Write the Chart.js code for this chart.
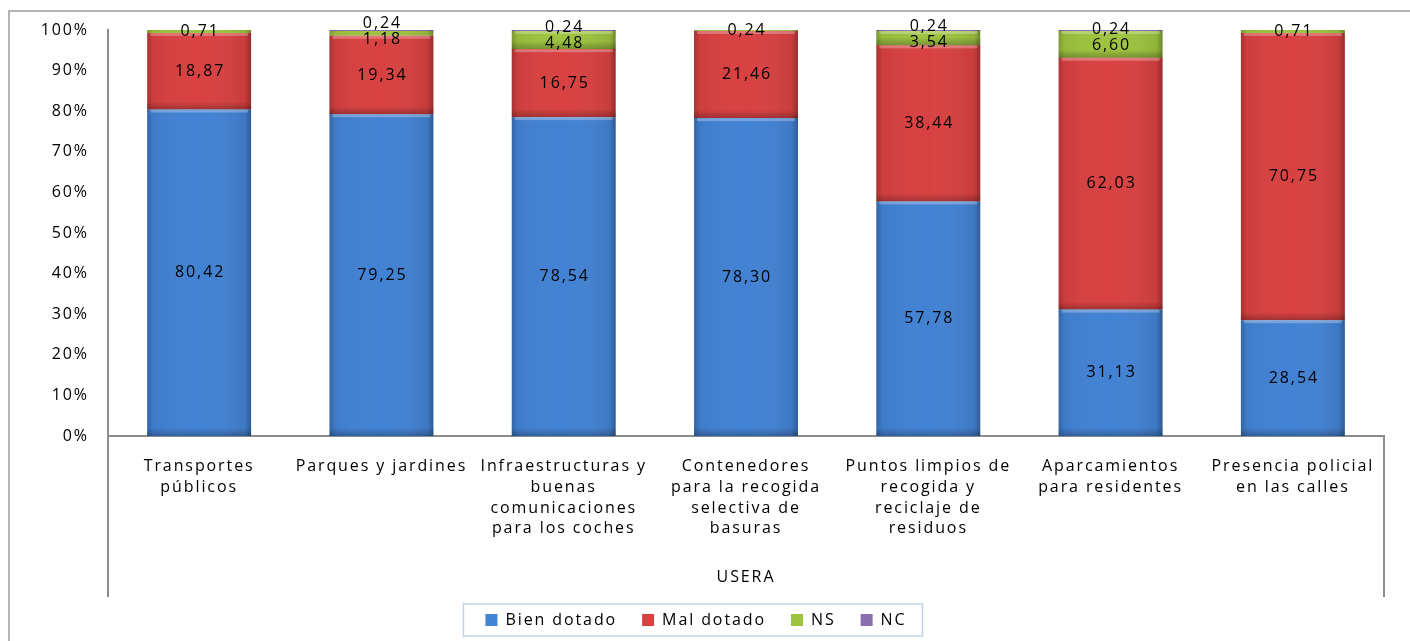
<!DOCTYPE html>
<html>
<head>
<meta charset="utf-8">
<script src="https://cdn.jsdelivr.net/npm/chart.js@4/dist/chart.umd.min.js"></script>
<style>
  html, body { margin: 0; padding: 0; background: #fff; }
  #wrap { width: 1410px; height: 641px; }
</style>
</head>
<body>
<div id="wrap"><canvas id="chart"></canvas></div>
<script>
// Data (percentages)
const categories = [
    ['Transportes', 'públicos'],
    ['Parques y jardines'],
    ['Infraestructuras y', 'buenas', 'comunicaciones', 'para los coches'],
    ['Contenedores', 'para la recogida', 'selectiva de', 'basuras'],
    ['Puntos limpios de', 'recogida y', 'reciclaje de', 'residuos'],
    ['Aparcamientos', 'para residentes'],
    ['Presencia policial', 'en las calles']
];
const bienDotado = [80.42, 79.25, 78.54, 78.30, 57.78, 31.13, 28.54];
const malDotado = [18.87, 19.34, 16.75, 21.46, 38.44, 62.03, 70.75];
const ns = [0.71, 1.18, 4.48, 0.24, 3.54, 6.60, 0.71];
const nc = [0, 0.24, 0.24, 0, 0.24, 0.24, 0];
const yTicks = [0, 10, 20, 30, 40, 50, 60, 70, 80, 90, 100];
const groupLabel = 'USERA';

const FONT = '"Open Sans", Lato, sans-serif';
const SPACING = '1.9px';
const PLOT_BOTTOM = 436;
const PAD_BOTTOM = 3;
const colors = {
    blue: '#4282d3',
    red: '#d84141',
    green: '#9dc33f',
    purple: '#8a70b0'
};

function fmt(v) {
    return v.toFixed(2).replace('.', ',');
}

// Spacing between letters like the original rendering
const letterSpacing = {
    id: 'letterSpacing',
    beforeLayout(chart) { chart.ctx.letterSpacing = SPACING; },
    beforeDraw(chart) { chart.ctx.letterSpacing = SPACING; }
};

// Outer frame of the chart
const frame = {
    id: 'frame',
    beforeDraw(chart) {
        const ctx = chart.ctx;
        ctx.save();
        ctx.strokeStyle = '#b4b4b4';
        ctx.lineWidth = 2;
        ctx.strokeRect(9, 11, chart.width + 20, chart.height + 20);
        ctx.restore();
    }
};

// Bevel shading on the bars
const bevel = {
    id: 'bevel',
    afterDatasetsDraw(chart) {
        const ctx = chart.ctx;
        ctx.save();
        chart.data.datasets.forEach((ds, i) => {
            const meta = chart.getDatasetMeta(i);
            meta.data.forEach((bar, j) => {
                if (!ds.data[j]) return;
                const left = bar.x - bar.width / 2;
                const right = bar.x + bar.width / 2;
                const top = Math.min(bar.y, bar.base);
                const h = Math.abs(bar.base - bar.y);
                let g = ctx.createLinearGradient(left, 0, right, 0);
                g.addColorStop(0, 'rgba(0,0,0,0.22)');
                g.addColorStop(0.06, 'rgba(0,0,0,0.05)');
                g.addColorStop(0.5, 'rgba(255,255,255,0)');
                g.addColorStop(0.94, 'rgba(0,0,0,0.08)');
                g.addColorStop(1, 'rgba(0,0,0,0.3)');
                ctx.fillStyle = g;
                ctx.fillRect(left, top, bar.width, h);
                if (h > 6) {
                    ctx.fillStyle = 'rgba(255,255,255,0.28)';
                    ctx.fillRect(left + 3, top, bar.width - 6, Math.min(3, h / 3));
                    const bg = ctx.createLinearGradient(0, top + h - 8, 0, top + h);
                    bg.addColorStop(0, 'rgba(0,0,0,0)');
                    bg.addColorStop(1, 'rgba(0,0,0,0.25)');
                    ctx.fillStyle = bg;
                    ctx.fillRect(left, top + h - 8, bar.width, 8);
                }
            });
        });
        ctx.restore();
    }
};

// Value labels centred in each segment, small ones spread apart
const valueLabels = {
    id: 'valueLabels',
    afterDatasetsDraw(chart) {
        const ctx = chart.ctx;
        const minGap = 16;
        ctx.save();
        ctx.font = '16px ' + FONT;
        ctx.fillStyle = '#000';
        ctx.textAlign = 'center';
        ctx.textBaseline = 'middle';
        categories.forEach((c, j) => {
            const items = [];
            chart.data.datasets.forEach((ds, i) => {
                const v = ds.data[j];
                if (!v) return;
                const bar = chart.getDatasetMeta(i).data[j];
                items.push({ x: bar.x, y: (bar.y + bar.base) / 2, text: fmt(v) });
            });
            items.sort((a, b) => a.y - b.y);
            for (let k = 0; k < 5; k++) {
                for (let n = 1; n < items.length; n++) {
                    const a = items[n - 1], b = items[n];
                    if (b.y - a.y < minGap) {
                        const mid = (a.y + b.y) / 2;
                        a.y = mid - minGap / 2;
                        b.y = mid + minGap / 2;
                    }
                }
            }
            items.forEach(it => ctx.fillText(it.text, it.x + 1, it.y));
        });
        ctx.restore();
    }
};

// Group label, axis box lines and legend frame
const extras = {
    id: 'extras',
    afterDraw(chart) {
        const ctx = chart.ctx;
        const area = chart.chartArea;
        ctx.save();
        ctx.strokeStyle = '#8c8c8c';
        ctx.lineWidth = 2;
        ctx.beginPath();
        ctx.moveTo(area.left, area.bottom);
        ctx.lineTo(area.left, area.bottom + 161);
        ctx.moveTo(area.right, area.bottom);
        ctx.lineTo(area.right, area.bottom + 161);
        ctx.stroke();
        ctx.font = '16px ' + FONT;
        ctx.fillStyle = '#000';
        ctx.textAlign = 'center';
        ctx.textBaseline = 'middle';
        ctx.fillText(groupLabel, (area.left + area.right) / 2, area.bottom + 141);

        const boxes = chart.legend.legendHitBoxes;
        if (boxes && boxes.length) {
            const l = Math.min(...boxes.map(b => b.left)) - 22;
            const r = Math.max(...boxes.map(b => b.left + b.width)) + 16;
            const cy = boxes[0].top + boxes[0].height / 2;
            ctx.strokeStyle = '#c3d1e6';
            ctx.lineWidth = 1.5;
            ctx.strokeRect(l, cy - 16, r - l, 32);
        }
        ctx.restore();
    }
};

const ctx = document.getElementById('chart').getContext('2d');
const chart = new Chart(ctx, {
    type: 'bar',
    data: {
        labels: categories,
        datasets: [
            { label: 'Bien dotado', data: bienDotado, backgroundColor: colors.blue },
            { label: 'Mal dotado', data: malDotado, backgroundColor: colors.red },
            { label: 'NS', data: ns, backgroundColor: colors.green },
            { label: 'NC', data: nc, backgroundColor: colors.purple }
        ]
    },
    options: {
        responsive: true,
        maintainAspectRatio: false,
        animation: false,
        layout: { padding: { left: 8, right: 26, top: 30, bottom: PAD_BOTTOM } },
        datasets: {
            bar: { categoryPercentage: 1, barPercentage: 0.57, borderWidth: 0 }
        },
        plugins: {
            legend: {
                position: 'bottom',
                labels: {
                    font: { family: FONT, size: 16 },
                    color: '#000',
                    boxWidth: 12,
                    boxHeight: 12,
                    padding: 25
                }
            },
            tooltip: { enabled: false }
        },
        scales: {
            x: {
                stacked: true,
                grid: { display: false, drawTicks: false },
                border: { color: '#8c8c8c', width: 2 },
                ticks: {
                    font: { family: FONT, size: 16, lineHeight: 1.3 },
                    color: '#000',
                    maxRotation: 0,
                    autoSkip: false,
                    padding: 20
                },
                afterFit(scale) {
                    const chart = scale.chart;
                    let lh = chart.legend && chart.legend.height;
                    if (!(lh > 0)) lh = 45;
                    scale.height = chart.height - PAD_BOTTOM - lh - PLOT_BOTTOM;
                }
            },
            y: {
                stacked: true,
                min: 0,
                max: 100,
                grid: { display: false, drawTicks: false },
                border: { color: '#8c8c8c', width: 2 },
                afterBuildTicks(scale) {
                    scale.ticks = yTicks.map(v => ({ value: v }));
                },
                ticks: {
                    font: { family: FONT, size: 16 },
                    color: '#000',
                    padding: 19,
                    callback: v => v + '%'
                },
                afterFit(scale) { scale.width = 100; }
            }
        }
    },
    plugins: [letterSpacing, frame, bevel, valueLabels, extras]
});
</script>
</body>
</html>
